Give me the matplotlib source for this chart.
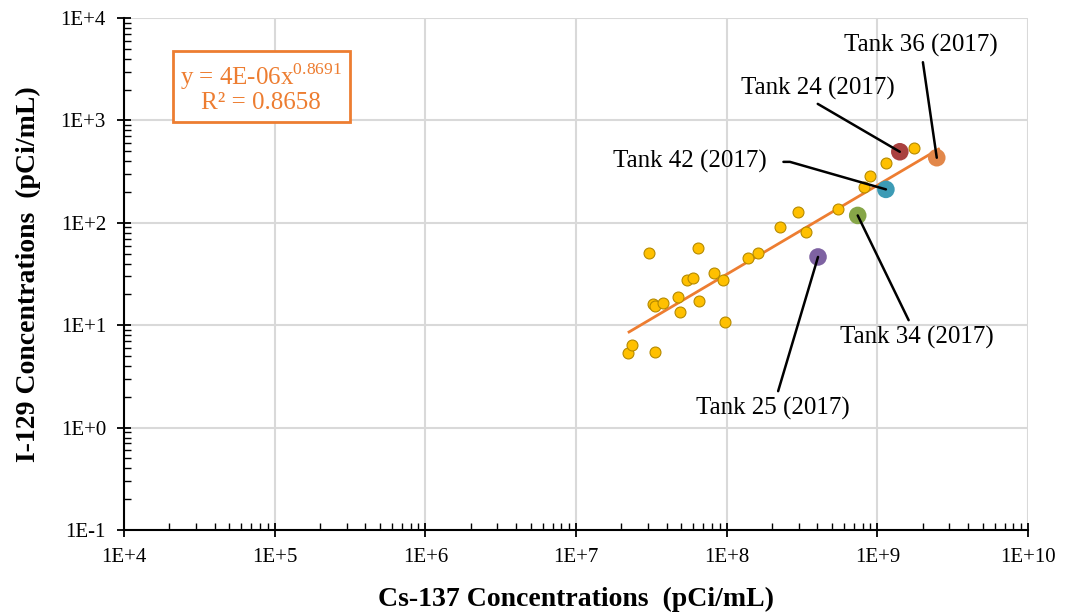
import matplotlib
matplotlib.use("Agg")
import matplotlib.pyplot as plt
from matplotlib.ticker import LogLocator, FixedLocator, FixedFormatter
import numpy as np

plt.rcParams["font.family"] = ["Liberation Serif", "DejaVu Serif"]
plt.rcParams["mathtext.fontset"] = "custom"
plt.rcParams["mathtext.rm"] = "Liberation Serif"

# Cs-137 vs I-129 data (pCi/mL)
cs137 = [2.22e7, 2.36e7, 3.36e7, 3.06e7, 3.26e7, 3.34e7, 3.80e7, 4.75e7, 4.90e7,
         5.48e7, 5.95e7, 6.48e7, 6.58e7, 8.28e7, 9.41e7, 9.70e7, 1.38e8, 1.62e8,
         2.26e8, 3.36e8, 2.99e8, 5.46e8, 8.19e8, 8.93e8, 1.14e9, 1.75e9]
i129 = [5.32, 6.41, 5.47, 50.4, 16.1, 15.4, 16.6, 18.8, 13.5,
        27.6, 29.1, 56.7, 17.1, 32.6, 27.4, 10.7, 45.0, 50.4,
        91.0, 81.3, 127, 137, 222, 288, 384, 534]

# highlighted 2017 tanks
tank_names = ["Tank 36 (2017)", "Tank 24 (2017)", "Tank 42 (2017)", "Tank 34 (2017)", "Tank 25 (2017)"]
tank_cs = [2.48e9, 1.41e9, 1.14e9, 7.41e8, 4.04e8]
tank_i = [432, 494, 212, 118, 46.4]
tank_colors = ["#E2874A", "#A9403F", "#3C9BB5", "#86A648", "#7E62A2"]

# power trendline
fit_a = 3.5e-6
fit_b = 0.8691
fit_xmin, fit_xmax = 2.25e7, 2.55e9

x_ticks = [1e4, 1e5, 1e6, 1e7, 1e8, 1e9, 1e10]
x_labels = ["1E+4", "1E+5", "1E+6", "1E+7", "1E+8", "1E+9", "1E+10"]
y_ticks = [1e-1, 1e0, 1e1, 1e2, 1e3, 1e4]
y_labels = ["1E-1", "1E+0", "1E+1", "1E+2", "1E+3", "1E+4"]

orange = "#ED7D31"

fig = plt.figure(figsize=(10.65, 6.16), dpi=100)
ax = fig.add_axes([124 / 1065, 1 - 530 / 616, 904 / 1065, 512 / 616])
ax.set_xscale("log")
ax.set_yscale("log")
ax.set_xlim(1e4, 1e10)
ax.set_ylim(1e-1, 1e4)

ax.grid(True, which="major", color="#D9D9D9", lw=1.5, zorder=0)
ax.set_axisbelow(True)

fx = np.logspace(np.log10(fit_xmin), np.log10(fit_xmax), 50)
ax.plot(fx, fit_a * fx ** fit_b, color=orange, lw=2, zorder=2)

ax.scatter(cs137, i129, s=62, color="#FFC000", edgecolor="#B58A00", lw=0.8, zorder=3)
ax.scatter(tank_cs, tank_i, s=160, color=tank_colors, edgecolor="none", zorder=4)

# annotations (text position in axes fraction)
ann_pos = [(0.881, 0.947), (0.768, 0.863), (0.626, 0.719), (0.877, 0.377), (0.718, 0.238)]
ann_conn = ["arc3", "arc3", "angle,angleA=0,angleB=164,rad=0", "arc3", "arc3"]
ann_shrink = [2, 2, 10, 2, 2]
ann_rel = [(0.5, 0.5), (0.45, 0.0), (0.5, 0.5), (0.5, 0.5), (0.5, 0.5)]
for name, cx, cy, pos, conn, shr, rel in zip(tank_names, tank_cs, tank_i, ann_pos,
                                             ann_conn, ann_shrink, ann_rel):
    ax.annotate(name, xy=(cx, cy), xytext=pos, textcoords="axes fraction",
                ha="center", va="center", fontsize=18,
                arrowprops=dict(arrowstyle="-", color="black", lw=1.8, relpos=rel,
                                shrinkA=shr, shrinkB=0, connectionstyle=conn),
                zorder=5)

# equation box
ax.text(0.1516, 0.864, "y = 4E-06x$^{\\mathregular{0.8691}}$\nR\u00b2 = 0.8658", transform=ax.transAxes,
        ha="center", va="center", fontsize=18, color=orange, linespacing=1.05,
        bbox=dict(boxstyle="square,pad=0.3", fc="white", ec=orange, lw=2))

ax.xaxis.set_major_locator(FixedLocator(x_ticks))
ax.xaxis.set_major_formatter(FixedFormatter(x_labels))
ax.yaxis.set_major_locator(FixedLocator(y_ticks))
ax.yaxis.set_major_formatter(FixedFormatter(y_labels))
ax.xaxis.set_minor_locator(LogLocator(base=10, subs=np.arange(2, 10), numticks=20))
ax.yaxis.set_minor_locator(LogLocator(base=10, subs=np.arange(2, 10), numticks=20))
ax.xaxis.set_minor_formatter(plt.NullFormatter())
ax.yaxis.set_minor_formatter(plt.NullFormatter())

ax.tick_params(which="major", direction="inout", length=10, width=1.3, labelsize=15, pad=8)
ax.tick_params(which="minor", direction="in", length=5, width=1.0)
ax.tick_params(top=False, right=False, which="both")

for s in ["top", "right"]:
    ax.spines[s].set_visible(False)
for s in ["left", "bottom"]:
    ax.spines[s].set_linewidth(1.5)

ax.set_xlabel("Cs-137 Concentrations  (pCi/mL)", fontsize=20, fontweight="bold", labelpad=14)
ax.set_ylabel("I-129 Concentrations  (pCi/mL)", fontsize=20, fontweight="bold", labelpad=14)

fig.savefig("out.png", dpi=100)
